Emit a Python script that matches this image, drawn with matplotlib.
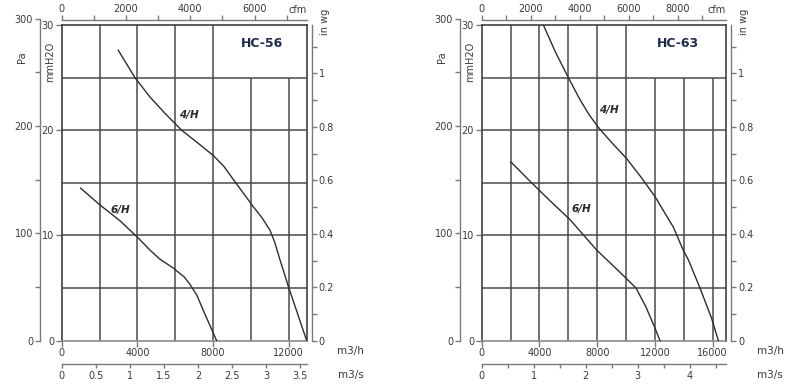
import matplotlib
matplotlib.use("Agg")
import matplotlib.pyplot as plt

# ---------------- data (flow in m3/h, static pressure in mmH2O) ----------------
hc56_4h_flow = [2990, 3870, 4670, 5460, 6340, 7150, 8010, 8580, 9160, 10120,
                10580, 11010, 11270, 11510, 11990, 12950]
hc56_4h_press = [27.6, 25.0, 23.15, 21.6, 20.0, 18.85, 17.6, 16.55, 15.1, 12.75,
                 11.7, 10.5, 9.3, 7.85, 5.1, 0.0]
hc56_6h_flow = [1000, 2020, 3080, 4050, 4670, 5190, 5900, 6480, 6780, 7150, 7480, 8190]
hc56_6h_press = [14.5, 12.9, 11.4, 9.75, 8.6, 7.75, 6.9, 6.05, 5.35, 4.3, 2.9, 0.0]

hc63_4h_flow = [4270, 5100, 6000, 6810, 7450, 8120, 9020, 10040, 11030, 12000, 12610,
                13270, 13960, 14310, 15120, 15930, 16390]
hc63_4h_press = [30.0, 27.45, 25.0, 22.9, 21.45, 20.2, 18.8, 17.3, 15.55, 13.7, 12.3,
                 10.8, 8.6, 7.7, 5.0, 2.1, 0.0]
hc63_6h_flow = [2010, 3460, 4730, 6120, 7970, 8660, 9580, 10690, 11380, 12000, 12350]
hc63_6h_press = [17.0, 15.0, 13.3, 11.5, 8.6, 7.7, 6.5, 5.0, 3.2, 1.2, 0.0]

curve_names = ["4/H", "6/H"]
titles = ["HC-56", "HC-63"]

m3h_ticks_56 = [0, 4000, 8000, 12000]
m3h_ticks_63 = [0, 4000, 8000, 12000, 16000]
grid_x_56 = [2000, 4000, 6000, 8000, 10000, 12000]
grid_x_63 = [2000, 4000, 6000, 8000, 10000, 12000, 14000, 16000]
cfm_ticks_56 = [0, 1000, 2000, 3000, 4000, 5000, 6000, 7000]
cfm_labels_56 = ["0", "", "2000", "", "4000", "", "6000", ""]
cfm_ticks_63 = [0, 1000, 2000, 3000, 4000, 5000, 6000, 7000, 8000, 9000]
cfm_labels_63 = ["0", "", "2000", "", "4000", "", "6000", "", "8000", ""]
m3s_ticks_56 = [0, 0.5, 1, 1.5, 2, 2.5, 3, 3.5]
m3s_labels_56 = ["0", "0.5", "1", "1.5", "2", "2.5", "3", "3.5"]
m3s_ticks_63 = [0, 0.5, 1, 1.5, 2, 2.5, 3, 3.5, 4, 4.5]
m3s_labels_63 = ["0", "", "1", "", "2", "", "3", "", "4", ""]
mm_ticks = [0, 10, 20, 30]
mm_grid = [5, 10, 15, 20, 25]
pa_ticks = [0, 50, 100, 150, 200, 250, 300]
pa_labels = ["0", "", "100", "", "200", "", "300"]
inwg_ticks = [0, 0.1, 0.2, 0.3, 0.4, 0.5, 0.6, 0.7, 0.8, 0.9, 1.0, 1.1]
inwg_labels = ["0", "", "0.2", "", "0.4", "", "0.6", "", "0.8", "", "1", ""]

# unit conversions
MM_PER_INWG = 25.4
PA_PER_MM = 9.80665
M3H_PER_CFM = 1.699011
M3H_PER_M3S = 3600.0

# ---------------- figure ----------------
W, H = 800, 388
fig = plt.figure(figsize=(8, 3.88), dpi=100)
TXT = "#3a3a3a"
AX = "#7a7a7a"
GRID = "#4a4a4a"
FS = 7

def fx(px):
    return px / W

def fy(py):
    return 1 - py / H

TOP, BOT = 25.0, 340.7
PPM = (BOT - TOP) / 30.0  # pixels per mmH2O

def panel(x0, x1, qmax, grid_x, box_from, m3h_ticks, cfm_ticks, cfm_labels,
          m3s_ticks, m3s_labels, title, title_xy, curves, label_xy):
    ax = fig.add_axes([fx(x0), fy(BOT), (x1 - x0) / W, (BOT - TOP) / H])
    ax.set_xlim(0, qmax)
    ax.set_ylim(0, 30)
    ax.patch.set_alpha(0)
    for s in ax.spines.values():
        s.set_color("#404040")
        s.set_linewidth(1.2)
    ax.spines["bottom"].set_color("#8a8a8a")

    tops = [25 if g > box_from else 30 for g in grid_x]
    ax.vlines(grid_x, 0, tops, colors=GRID, linewidth=1.1, zorder=1)
    ax.hlines(mm_grid, 0, qmax, colors=GRID, linewidth=1.1, zorder=1)

    ax.set_xticks(m3h_ticks)
    ax.set_xticklabels([str(t) for t in m3h_ticks])
    ax.set_yticks(mm_ticks)
    ax.set_yticklabels([str(t) for t in mm_ticks])
    ax.tick_params(axis="both", direction="out", length=4, width=1,
                   color=AX, labelcolor=TXT, labelsize=FS, pad=1.5)

    for (q, p), name, (lx, ly) in zip(curves, curve_names, label_xy):
        ax.plot(q, p, color="#2e2e2e", linewidth=1.0, zorder=3,
                solid_joinstyle="round")
        ax.text(lx, ly, name, fontsize=7.5, fontstyle="italic", fontweight="bold",
                color="#2a2a2a", ha="center", va="center", zorder=4)

    ax.text(title_xy[0], title_xy[1], title, fontsize=9, fontweight="bold",
            color="#1d2b4c", ha="center", va="center", zorder=4)

    # top cfm axis
    loc_top = 1 + 5.0 / (BOT - TOP)
    cfm = ax.secondary_xaxis(loc_top, functions=(lambda q: q / M3H_PER_CFM,
                                                 lambda c: c * M3H_PER_CFM))
    cfm.set_xticks(cfm_ticks)
    cfm.set_xticklabels(cfm_labels)
    cfm.tick_params(direction="out", length=3.5, width=1, color=AX,
                    labelcolor=TXT, labelsize=FS, pad=1)
    for s in cfm.spines.values():
        s.set_color(AX)
        s.set_linewidth(1.0)

    # bottom m3/s axis
    loc_bot = -(364.3 - BOT) / (BOT - TOP)
    m3s = ax.secondary_xaxis(loc_bot, functions=(lambda q: q / M3H_PER_M3S,
                                                 lambda s: s * M3H_PER_M3S))
    m3s.set_xticks(m3s_ticks)
    m3s.set_xticklabels(m3s_labels)
    m3s.tick_params(direction="out", length=3, width=1, color=AX,
                    labelcolor=TXT, labelsize=FS, pad=2)
    for s in m3s.spines.values():
        s.set_color(AX)
        s.set_linewidth(1.0)

    # right in wg axis
    loc_r = 1 + 5.0 / (x1 - x0)
    iw = ax.secondary_yaxis(loc_r, functions=(lambda m: m / MM_PER_INWG,
                                              lambda i: i * MM_PER_INWG))
    iw.set_yticks(inwg_ticks)
    iw.set_yticklabels(inwg_labels)
    iw.tick_params(direction="out", length=3.5, width=1, color=AX,
                   labelcolor=TXT, labelsize=FS, pad=1.5)
    for s in iw.spines.values():
        s.set_color(AX)
        s.set_linewidth(1.0)

    # left Pa axis (own axes so it can reach 300 Pa)
    pa_h = 300.0 / PA_PER_MM * PPM
    pa = fig.add_axes([fx(x0 - 21.7), fy(BOT), 0.0005, pa_h / H])
    pa.set_ylim(0, 300)
    pa.patch.set_alpha(0)
    for k in ("top", "right", "bottom"):
        pa.spines[k].set_visible(False)
    pa.spines["left"].set_color(AX)
    pa.spines["left"].set_linewidth(1.0)
    pa.set_xticks([])
    pa.set_yticks(pa_ticks)
    pa.set_yticklabels(pa_labels)
    pa.tick_params(axis="y", direction="out", length=3.5, width=1, color=AX,
                   labelcolor=TXT, labelsize=FS, pad=1.5)

    # axis unit labels
    fig.text(fx(x0 - 39.7), fy(57), "Pa", rotation=90, fontsize=FS,
             color=TXT, ha="center", va="center")
    fig.text(fx(x0 - 11.7), fy(62), "mmH2O", rotation=90, fontsize=FS,
             color=TXT, ha="center", va="center")
    fig.text(fx(x1 + 18), fy(22), "in wg", rotation=90, fontsize=FS,
             color=TXT, ha="center", va="center")
    fig.text(fx(x1 - 9.5), fy(10), "cfm", fontsize=FS, color=TXT,
             ha="center", va="center")
    fig.text(fx(x1 + 44), fy(351), "m3/h", fontsize=FS + 0.5, color=TXT,
             ha="center", va="center")
    fig.text(fx(x1 + 44), fy(375), "m3/s", fontsize=FS + 0.5, color=TXT,
             ha="center", va="center")
    return ax


panel(61.7, 306.7, 12950, grid_x_56, 8000, m3h_ticks_56, cfm_ticks_56, cfm_labels_56,
      m3s_ticks_56, m3s_labels_56, titles[0], (10580, 28.2),
      [(hc56_4h_flow, hc56_4h_press), (hc56_6h_flow, hc56_6h_press)],
      [(6710, 21.45), (3080, 12.4)])

panel(481.7, 726.0, 16920, grid_x_63, 10000, m3h_ticks_63, cfm_ticks_63, cfm_labels_63,
      m3s_ticks_63, m3s_labels_63, titles[1], (13620, 28.2),
      [(hc63_4h_flow, hc63_4h_press), (hc63_6h_flow, hc63_6h_press)],
      [(8820, 21.9), (6930, 12.5)])

fig.savefig("out.png", dpi=100, facecolor="white")
